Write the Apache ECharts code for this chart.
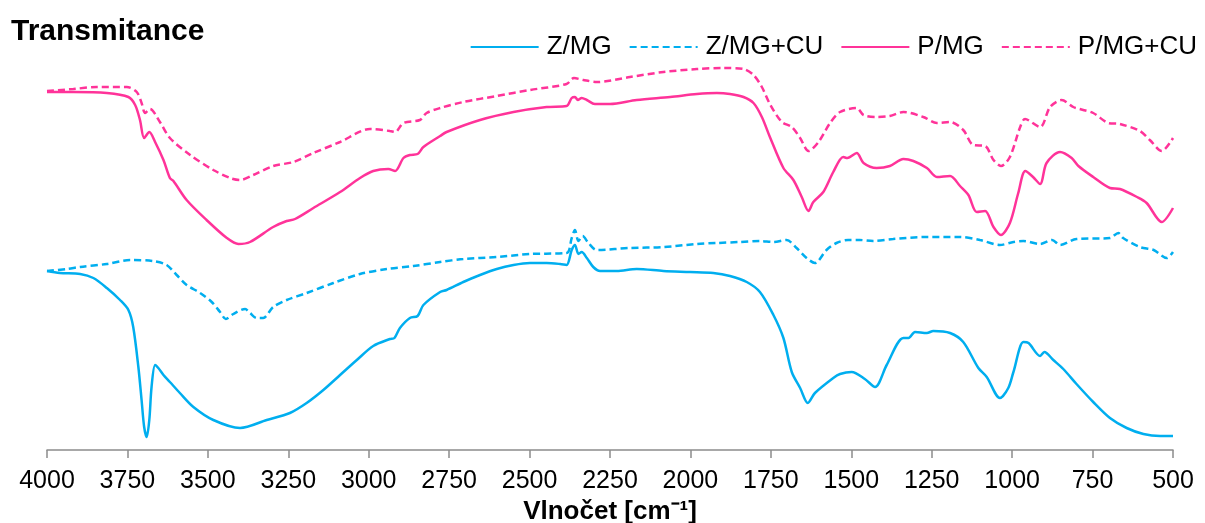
<!DOCTYPE html>
<html><head><meta charset="utf-8">
<script src="https://cdn.jsdelivr.net/npm/echarts@6/dist/echarts.min.js"></script>
<style>html,body{margin:0;padding:0;background:#fff}#c{width:1205px;height:523px}</style>
</head><body><div id="c"></div>
<script>
const xTicks = [4000,3750,3500,3250,3000,2750,2500,2250,2000,1750,1500,1250,1000,750,500];
const seriesNames = ['Z/MG','Z/MG+CU','P/MG','P/MG+CU'];

const zmgWn = [4000,3960,3897,3856,3814,3773,3747,3732,3716,3706,3698,3690,3682,3675,3664,3654,3638,3618,3587,3545,3483,3400,3317,3245,3193,3141,3089,3037,2986,2934,2920,2903,2872,2848,2830,2778,2758,2706,2654,2602,2550,2499,2447,2405,2385,2369,2359,2348,2338,2322,2302,2281,2229,2167,2084,2001,1929,1877,1825,1784,1742,1711,1685,1659,1635,1613,1556,1535,1499,1458,1426,1390,1338,1322,1302,1265,1245,1193,1152,1105,1079,1038,1012,996,965,949,913,900,872,841,800,748,696,644,592,540,500];
const zmgT = [179,177,176,172,162,150,140,123,83,50,23,13,30,63,85,82,75,68,57,43,30,22,30,37,47,60,75,90,104,111,112,122,132,134,145,158,160,168,175,181,185,187,187,186,185,200,205,196,198,192,183,179,179,181,179,178,177,174,168,158,135,112,78,62,47,57,72,76,78,71,63,85,112,112,118,117,119,117,108,82,73,52,62,78,108,107,94,98,90,81,66,48,32,22,16,14,14];

const zmgCuWn = [4000,3939,3897,3814,3742,3670,3628,3597,3566,3524,3488,3462,3444,3421,3384,3369,3348,3328,3297,3255,3193,3110,3027,2944,2861,2778,2706,2602,2499,2385,2369,2359,2348,2335,2317,2291,2188,2084,1980,1918,1846,1784,1742,1701,1670,1639,1613,1577,1546,1510,1474,1432,1370,1265,1162,1100,1038,996,965,913,876,851,800,696,670,655,603,560,519,500];
const zmgCuT = [179,181,183,186,190,189,185,175,165,157,148,138,131,136,141,137,132,132,143,150,157,167,176,181,184,188,191,193,196,197,212,220,209,214,207,200,202,203,206,207,208,209,208,210,202,192,187,200,207,210,210,209,211,213,213,210,205,208,209,206,210,205,211,212,217,212,203,200,192,198];

const pmgWn = [4000,3918,3814,3747,3726,3711,3698,3682,3664,3638,3618,3607,3566,3504,3441,3405,3369,3297,3255,3229,3172,3089,3027,2986,2939,2918,2892,2872,2848,2830,2778,2758,2654,2550,2447,2385,2369,2359,2350,2338,2322,2297,2250,2167,2063,1980,1918,1877,1835,1804,1778,1753,1711,1680,1654,1633,1618,1587,1556,1525,1512,1483,1462,1421,1380,1338,1307,1265,1234,1193,1162,1136,1110,1084,1058,1035,1007,981,959,935,913,893,851,815,794,748,696,665,612,582,535,500];
const pmgT = [358,358,357,353,345,330,312,318,308,290,272,269,250,230,212,206,208,223,229,231,242,258,272,279,281,279,292,295,296,303,314,318,330,338,343,344,352,353,350,352,350,346,346,350,353,356,357,356,353,347,333,313,282,270,253,239,248,258,278,293,292,297,287,282,284,291,289,282,273,274,264,255,238,239,223,215,227,257,279,273,266,287,298,292,284,273,262,261,253,247,228,242];

const pmgCuWn = [4000,3918,3846,3752,3721,3706,3695,3680,3649,3618,3555,3483,3431,3400,3359,3297,3234,3172,3089,2996,2934,2918,2892,2841,2820,2778,2706,2602,2499,2385,2362,2333,2291,2188,2084,1980,1898,1835,1804,1778,1753,1716,1685,1659,1633,1602,1566,1535,1483,1462,1421,1380,1338,1276,1234,1193,1152,1121,1084,1058,1035,1007,975,960,913,882,846,810,790,748,701,665,603,572,535,500];
const pmgCuT = [359,361,363,363,358,347,337,341,328,312,295,280,272,270,275,284,288,297,308,321,319,318,327,330,337,342,348,354,360,366,372,370,368,373,378,381,382,381,375,363,346,328,323,312,299,308,327,338,342,335,333,334,338,333,327,328,320,305,304,290,284,293,323,331,323,343,350,343,341,337,327,326,319,310,299,312];

const BLUE = '#00AEEF', PINK = '#FF3399';
const FONT = '"Liberation Sans", Arial, sans-serif';
const zip = (a, b) => a.map((w, i) => [w, b[i]]);

function mk(name, wn, t, color, dashed) {
  return {
    name, type: 'line', data: zip(wn, t), showSymbol: false, symbol: 'none',
    smooth: 0.3, lineStyle: { color, width: 2.5, type: dashed ? [7, 4] : 'solid' },
    itemStyle: { color }, emphasis: { disabled: true }, animation: false
  };
}

const chart = echarts.init(document.getElementById('c'));
chart.setOption({
  animation: false,
  backgroundColor: '#fff',
  title: { text: 'Transmitance', left: 6, top: 12,
    textStyle: { fontFamily: FONT, fontSize: 30, fontWeight: 'bold', color: '#000' } },
  legend: {
    data: seriesNames, right: 3, top: 29, itemWidth: 68, itemHeight: 14, itemGap: 17,
    itemStyle: { opacity: 0 },
    textStyle: { fontFamily: FONT, fontSize: 26, color: '#000', padding: [0, 0, 0, 3] }
  },
  grid: { left: 47, right: 32, top: 50, bottom: 73, containLabel: false, outerBoundsMode: 'none' },
  xAxis: {
    type: 'value', inverse: true, min: 500, max: 4000, interval: 250,
    name: 'Vlnočet [cm⁻¹]', nameLocation: 'middle', nameGap: 45,
    nameTextStyle: { fontFamily: FONT, fontSize: 26, fontWeight: 'bold', color: '#000' },
    axisLine: { lineStyle: { color: '#8c8c8c', width: 1.5 } },
    axisTick: { show: true, length: 8, lineStyle: { color: '#8c8c8c', width: 1.5 } },
    axisLabel: { fontFamily: FONT, fontSize: 25, color: '#000', margin: 19,
      customValues: xTicks, formatter: v => String(v) },
    splitLine: { show: false }
  },
  yAxis: { type: 'value', min: 0, max: 400, show: false, splitLine: { show: false } },
  series: [
    mk(seriesNames[0], zmgWn, zmgT, BLUE, false),
    mk(seriesNames[1], zmgCuWn, zmgCuT, BLUE, true),
    mk(seriesNames[2], pmgWn, pmgT, PINK, false),
    mk(seriesNames[3], pmgCuWn, pmgCuT, PINK, true)
  ]
});
</script></body></html>
